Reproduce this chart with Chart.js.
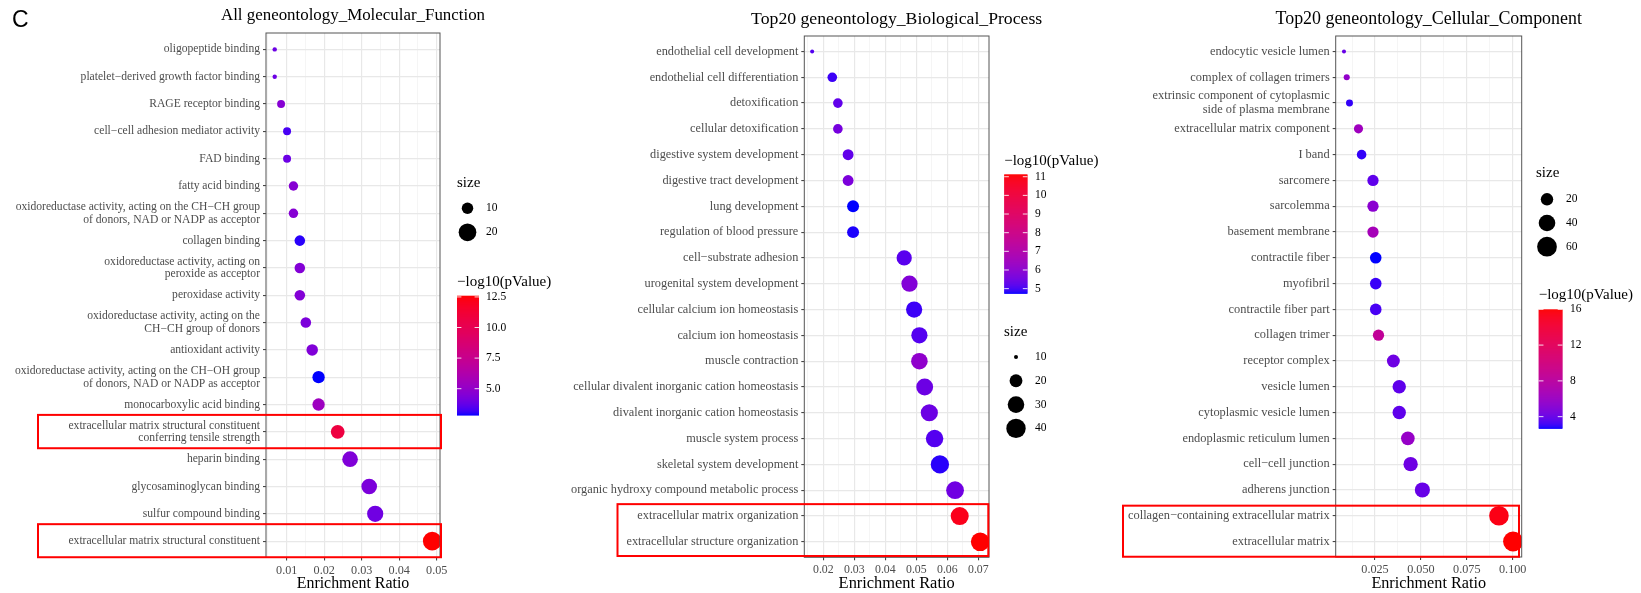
<!DOCTYPE html>
<html>
<head>
<meta charset="utf-8">
<script src="https://cdn.jsdelivr.net/npm/chart.js@4"></script>
<style>
  body { margin: 0; background: #fff; }
  #wrap { position: relative; width: 1641px; height: 593px; overflow: hidden; background: #fff; }
  #wrap canvas { position: absolute; left: 0; top: 0; }
</style>
</head>
<body>
<div id="wrap">
  <canvas id="mf" width="1641" height="593"></canvas>
  <canvas id="bp" width="1641" height="593"></canvas>
  <canvas id="cc" width="1641" height="593"></canvas>
</div>
<script>
const M = '\u2212';

// ---- Molecular function ----
const mfTerms = [
  'oligopeptide binding',
  'platelet' + M + 'derived growth factor binding',
  'RAGE receptor binding',
  'cell' + M + 'cell adhesion mediator activity',
  'FAD binding',
  'fatty acid binding',
  ['oxidoreductase activity, acting on the CH' + M + 'CH group', 'of donors, NAD or NADP as acceptor'],
  'collagen binding',
  ['oxidoreductase activity, acting on', 'peroxide as acceptor'],
  'peroxidase activity',
  ['oxidoreductase activity, acting on the', 'CH' + M + 'CH group of donors'],
  'antioxidant activity',
  ['oxidoreductase activity, acting on the CH' + M + 'OH group', 'of donors, NAD or NADP as acceptor'],
  'monocarboxylic acid binding',
  ['extracellular matrix structural constituent', 'conferring tensile strength'],
  'heparin binding',
  'glycosaminoglycan binding',
  'sulfur compound binding',
  'extracellular matrix structural constituent'
];
const mfRatio = [0.0068, 0.0068, 0.0085, 0.0101, 0.0101, 0.0118, 0.0118, 0.0135, 0.0135, 0.0135,
  0.0151, 0.0168, 0.0185, 0.0185, 0.0236, 0.0269, 0.0320, 0.0336, 0.0488];
const mfSize = [6, 6, 7, 7, 7, 8, 8, 9, 9, 9, 9, 10, 11, 11, 13, 16, 16, 17, 22];
const mfLogP = [3.9, 3.9, 4.6, 3.3, 3.9, 4.6, 4.6, 3.0, 4.5, 4.5, 4.3, 4.4, 2.85, 5.4, 10.8, 4.4, 4.3, 4.0, 12.6];
const mfSizeBreaks = [10, 20];
const mfColorBreaks = [5, 7.5, 10, 12.5];
const mfColorLabels = ['5.0', '7.5', '10.0', '12.5'];

// ---- Biological process ----
const bpTerms = [
  'endothelial cell development',
  'endothelial cell differentiation',
  'detoxification',
  'cellular detoxification',
  'digestive system development',
  'digestive tract development',
  'lung development',
  'regulation of blood pressure',
  'cell' + M + 'substrate adhesion',
  'urogenital system development',
  'cellular calcium ion homeostasis',
  'calcium ion homeostasis',
  'muscle contraction',
  'cellular divalent inorganic cation homeostasis',
  'divalent inorganic cation homeostasis',
  'muscle system process',
  'skeletal system development',
  'organic hydroxy compound metabolic process',
  'extracellular matrix organization',
  'extracellular structure organization'
];
const bpRatio = [0.0164, 0.0229, 0.0247, 0.0247, 0.0280, 0.0280, 0.0296, 0.0296, 0.0461, 0.0478,
  0.0493, 0.0510, 0.0510, 0.0527, 0.0542, 0.0559, 0.0576, 0.0625, 0.0640, 0.0706];
const bpSize = [10, 14, 14, 14, 16, 16, 18, 18, 26, 29, 29, 29, 30, 31, 32, 33, 36, 34, 35, 37];
const bpLogP = [5.15, 4.95, 5.3, 5.6, 5.3, 5.7, 4.75, 4.8, 5.2, 5.8, 4.95, 5.15, 6.1, 5.45, 5.45, 5.15, 4.85, 5.5, 10.8, 11.13];
const bpSizeBreaks = [10, 20, 30, 40];
const bpColorBreaks = [5, 6, 7, 8, 9, 10, 11];
const bpColorLabels = ['5', '6', '7', '8', '9', '10', '11'];

// ---- Cellular component ----
const ccTerms = [
  'endocytic vesicle lumen',
  'complex of collagen trimers',
  ['extrinsic component of cytoplasmic', 'side of plasma membrane'],
  'extracellular matrix component',
  'I band',
  'sarcomere',
  'sarcolemma',
  'basement membrane',
  'contractile fiber',
  'myofibril',
  'contractile fiber part',
  'collagen trimer',
  'receptor complex',
  'vesicle lumen',
  'cytoplasmic vesicle lumen',
  'endoplasmic reticulum lumen',
  'cell' + M + 'cell junction',
  'adherens junction',
  'collagen' + M + 'containing extracellular matrix',
  'extracellular matrix'
];
const ccRatio = [0.0081, 0.0096, 0.0111, 0.0160, 0.0177, 0.0239, 0.0239, 0.0239, 0.0254, 0.0254,
  0.0254, 0.0269, 0.0350, 0.0382, 0.0382, 0.0429, 0.0444, 0.0508, 0.0925, 0.1002];
const ccSize = [4, 5, 6, 10, 11, 16, 16, 16, 17, 17, 17, 16, 22, 24, 24, 25, 28, 32, 59, 62];
const ccLogP = [4.0, 5.6, 3.0, 6.3, 3.0, 3.8, 5.3, 6.6, 2.7, 3.1, 3.3, 8.5, 4.2, 3.8, 3.8, 5.8, 4.2, 4.0, 15.5, 16.0];
const ccSizeBreaks = [20, 40, 60];
const ccColorBreaks = [4, 8, 12, 16];
const ccColorLabels = ['4', '8', '12', '16'];

const SERIF = '"Liberation Serif", "Times New Roman", serif';
const LEG_TITLE = 15;
const LEG_FONT = 11.5;
const W = 1641, H = 593;

// blue -> red gradient interpolated in Lab, like ggplot's scale_colour_gradient
function toLin(c) { c /= 255; return c <= 0.04045 ? c / 12.92 : Math.pow((c + 0.055) / 1.055, 2.4); }
function toByte(c) {
  c = c <= 0.0031308 ? 12.92 * c : 1.055 * Math.pow(c, 1 / 2.4) - 0.055;
  return Math.round(Math.min(1, Math.max(0, c)) * 255);
}
function rgbToLab(rgb) {
  const R = toLin(rgb[0]), G = toLin(rgb[1]), B = toLin(rgb[2]);
  const x = (0.4124 * R + 0.3576 * G + 0.1805 * B) / 0.95047;
  const y = 0.2126 * R + 0.7152 * G + 0.0722 * B;
  const z = (0.0193 * R + 0.1192 * G + 0.9505 * B) / 1.08883;
  const f = t => t > 0.008856 ? Math.cbrt(t) : 7.787 * t + 16 / 116;
  return [116 * f(y) - 16, 500 * (f(x) - f(y)), 200 * (f(y) - f(z))];
}
function labToCss(lab) {
  const fy = (lab[0] + 16) / 116, fx = fy + lab[1] / 500, fz = fy - lab[2] / 200;
  const fi = t => t * t * t > 0.008856 ? t * t * t : (t - 16 / 116) / 7.787;
  const x = fi(fx) * 0.95047, y = fi(fy), z = fi(fz) * 1.08883;
  const r = 3.2406 * x - 1.5372 * y - 0.4986 * z;
  const g = -0.9689 * x + 1.8758 * y + 0.0415 * z;
  const b = 0.0557 * x - 0.2040 * y + 1.0570 * z;
  return 'rgb(' + toByte(r) + ',' + toByte(g) + ',' + toByte(b) + ')';
}
const LOW = rgbToLab([0, 0, 255]), HIGH = rgbToLab([255, 0, 0]);
function gradColor(v, lo, hi) {
  const t = Math.min(1, Math.max(0, (v - lo) / (hi - lo)));
  return labToCss(LOW.map((l, i) => l + (HIGH[i] - l) * t));
}

// point area proportional to size, as scale_size does
function radius(v, p) {
  const lo = Math.min(...p.size), hi = Math.max(...p.size);
  return p.rMin + (p.rMax - p.rMin) * Math.sqrt(Math.max(0, (v - lo) / (hi - lo)));
}

const panels = [
  {
    id: 'mf', title: 'All geneontology_Molecular_Function', titleY: 16,
    terms: mfTerms, ratio: mfRatio, size: mfSize, logp: mfLogP,
    sizeBreaks: mfSizeBreaks, colorBreaks: mfColorBreaks, colorLabels: mfColorLabels,
    area: { left: 266, right: 440, top: 33, bottom: 557.5 },
    xMin: 0.00448, xMax: 0.05088, xStep: 0.01, xDigits: 2,
    fonts: { title: 16.9, y: 11.6, x: 12.2, axis: 15.9 },
    rMin: 2.2, rMax: 9.3,
    boxes: [
      { from: 14, to: 14, left: 38, right: 441, padTop: 0.62, padBottom: 0.6 },
      { from: 18, to: 18, left: 38, right: 441, padTop: 0.62, padBottom: 0.59 }
    ],
    sizeLegend: { x: 457, y: 182.7, dotX: 467.5, labelX: 486, rowY: 208.3, rowStep: 24 },
    colorbar: { x: 457, titleY: 281.7, top: 295.7, w: 22, h: 119.3, labelX: 486 },
    tag: true
  },
  {
    id: 'bp', title: 'Top20 geneontology_Biological_Process', titleY: 19,
    terms: bpTerms, ratio: bpRatio, size: bpSize, logp: bpLogP,
    sizeBreaks: bpSizeBreaks, colorBreaks: bpColorBreaks, colorLabels: bpColorLabels,
    area: { left: 804.3, right: 989, top: 36, bottom: 557.3 },
    xMin: 0.01387, xMax: 0.07345, xStep: 0.01, xDigits: 2,
    fonts: { title: 17.7, y: 12.3, x: 11.8, axis: 16.4 },
    rMin: 2, rMax: 9.3,
    boxes: [{ from: 18, to: 19, left: 617.5, right: 988.3, padTop: 0.46, padBottom: 0.55 }],
    sizeLegend: { x: 1004, y: 331.7, dotX: 1016, labelX: 1035, rowY: 357, rowStep: 23.8 },
    colorbar: { x: 1004.2, titleY: 161.3, top: 174.3, w: 23.3, h: 119, labelX: 1035 }
  },
  {
    id: 'cc', title: 'Top20 geneontology_Cellular_Component', titleY: 19,
    terms: ccTerms, ratio: ccRatio, size: ccSize, logp: ccLogP,
    sizeBreaks: ccSizeBreaks, colorBreaks: ccColorBreaks, colorLabels: ccColorLabels,
    area: { left: 1335.7, right: 1521.7, top: 36, bottom: 557 },
    xMin: 0.00359, xMax: 0.1049, xStep: 0.025, xDigits: 3,
    fonts: { title: 17.9, y: 12.4, x: 12.2, axis: 16.2 },
    rMin: 2, rMax: 10,
    boxes: [{ from: 18, to: 19, left: 1123, right: 1519, padTop: 0.39, padBottom: 0.59 }],
    sizeLegend: { x: 1536, y: 173, dotX: 1547, labelX: 1566, rowY: 199.3, rowStep: 23.7 },
    colorbar: { x: 1538.7, titleY: 295, top: 309.3, w: 23.8, h: 119, labelX: 1570 }
  }
];

function isMajor(v, step) {
  return Math.abs(v / step - Math.round(v / step)) < 1e-6;
}

function decor(p) {
  const cMin = Math.min(...p.logp), cMax = Math.max(...p.logp);
  return {
    id: 'decor_' + p.id,
    afterDraw(chart) {
      const ctx = chart.ctx, a = chart.chartArea, y = chart.scales.y;
      ctx.save();

      // panel border
      ctx.strokeStyle = '#555';
      ctx.lineWidth = 1;
      ctx.strokeRect(a.left, a.top, a.right - a.left, a.bottom - a.top);

      // highlighted terms
      ctx.strokeStyle = '#ff0000';
      ctx.lineWidth = 2;
      p.boxes.forEach(b => {
        const t = y.getPixelForValue(b.from - b.padTop);
        const btm = y.getPixelForValue(b.to + b.padBottom);
        ctx.strokeRect(b.left, t, b.right - b.left, btm - t);
      });

      // plot title
      ctx.fillStyle = '#000';
      ctx.textAlign = 'center';
      ctx.textBaseline = 'middle';
      ctx.font = p.fonts.title + 'px ' + SERIF;
      ctx.fillText(p.title, (a.left + a.right) / 2, p.titleY);

      if (p.tag) {
        ctx.textAlign = 'left';
        ctx.font = '23px "Liberation Sans", Arial, sans-serif';
        ctx.fillText('C', 12, 21);
      }

      // size legend
      const s = p.sizeLegend;
      ctx.textAlign = 'left';
      ctx.font = LEG_TITLE + 'px ' + SERIF;
      ctx.fillText('size', s.x, s.y);
      ctx.font = LEG_FONT + 'px ' + SERIF;
      p.sizeBreaks.forEach((v, i) => {
        const cy = s.rowY + i * s.rowStep;
        ctx.beginPath();
        ctx.arc(s.dotX, cy, radius(v, p), 0, Math.PI * 2);
        ctx.fill();
        ctx.fillText(String(v), s.labelX, cy);
      });

      // colour bar
      const cb = p.colorbar;
      ctx.font = LEG_TITLE + 'px ' + SERIF;
      ctx.fillText(M + 'log10(pValue)', cb.x, cb.titleY);
      const steps = Math.round(cb.h);
      for (let i = 0; i < steps; i++) {
        const v = cMax - (cMax - cMin) * (i + 0.5) / steps;
        ctx.fillStyle = gradColor(v, cMin, cMax);
        ctx.fillRect(cb.x, cb.top + i * cb.h / steps, cb.w, cb.h / steps + 0.6);
      }
      ctx.strokeStyle = 'rgba(255,255,255,0.85)';
      ctx.lineWidth = 1;
      ctx.fillStyle = '#000';
      ctx.font = LEG_FONT + 'px ' + SERIF;
      p.colorBreaks.forEach((v, i) => {
        const py = cb.top + (cMax - v) / (cMax - cMin) * cb.h;
        ctx.beginPath();
        ctx.moveTo(cb.x, py); ctx.lineTo(cb.x + cb.w / 5, py);
        ctx.moveTo(cb.x + cb.w, py); ctx.lineTo(cb.x + cb.w * 4 / 5, py);
        ctx.stroke();
        ctx.fillText(p.colorLabels[i], cb.labelX, py);
      });

      ctx.restore();
    }
  };
}

function drawPanel(p) {
  const cMin = Math.min(...p.logp), cMax = Math.max(...p.logp);
  const half = p.xStep / 2;
  new Chart(document.getElementById(p.id), {
    type: 'bubble',
    data: {
      datasets: [{
        data: p.ratio.map((x, i) => ({ x: x, y: i, r: radius(p.size[i], p) })),
        backgroundColor: p.logp.map(v => gradColor(v, cMin, cMax)),
        borderWidth: 0,
        clip: 0
      }]
    },
    options: {
      responsive: false,
      animation: false,
      events: [],
      layout: { padding: { left: 0, top: p.area.top, right: W - p.area.right, bottom: 0 } },
      plugins: { legend: { display: false }, tooltip: { enabled: false }, title: { display: false } },
      scales: {
        x: {
          type: 'linear',
          min: p.xMin,
          max: p.xMax,
          bounds: 'data',
          afterBuildTicks(scale) {
            const ticks = [];
            for (let k = Math.ceil(p.xMin / half); k * half <= p.xMax + 1e-12; k++) {
              ticks.push({ value: +(k * half).toFixed(6) });
            }
            scale.ticks = ticks;
          },
          afterFit(scale) { scale.height = H - p.area.bottom; },
          ticks: {
            autoSkip: false,
            maxRotation: 0,
            padding: 2.5,
            color: '#4d4d4d',
            font: { family: SERIF, size: p.fonts.x },
            callback: v => isMajor(v, p.xStep) ? v.toFixed(p.xDigits) : ''
          },
          grid: {
            color: c => isMajor(c.tick.value, p.xStep) ? '#e8e8e8' : '#f2f2f2',
            lineWidth: c => isMajor(c.tick.value, p.xStep) ? 1.2 : 0.8,
            tickColor: c => isMajor(c.tick.value, p.xStep) ? '#333' : 'rgba(0,0,0,0)',
            tickLength: 3,
            tickWidth: 1
          },
          border: { display: false },
          title: {
            display: true,
            text: 'Enrichment Ratio',
            color: '#000',
            font: { family: SERIF, size: p.fonts.axis, lineHeight: 1.1 },
            padding: { top: 0, bottom: 0 }
          }
        },
        y: {
          type: 'linear',
          reverse: true,
          min: -0.6,
          max: p.terms.length - 0.4,
          bounds: 'data',
          afterBuildTicks(scale) { scale.ticks = p.terms.map((_, i) => ({ value: i })); },
          afterFit(scale) { scale.width = p.area.left; },
          ticks: {
            autoSkip: false,
            padding: 3,
            color: '#4d4d4d',
            font: { family: SERIF, size: p.fonts.y, lineHeight: 1.1 },
            callback: v => p.terms[v]
          },
          grid: {
            color: '#e8e8e8',
            lineWidth: 1.2,
            tickColor: '#333',
            tickLength: 3,
            tickWidth: 1
          },
          border: { display: false }
        }
      }
    },
    plugins: [decor(p)]
  });
}

panels.forEach(drawPanel);
</script>
</body>
</html>
